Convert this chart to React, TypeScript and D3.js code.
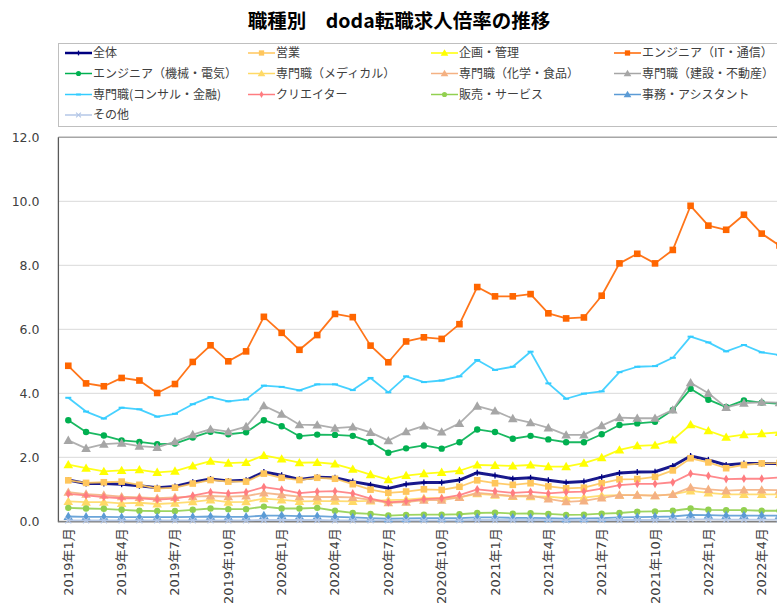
import React from "react";
import * as d3 from "d3";

const months: string[] = [
  "2019年1月","2019年2月","2019年3月","2019年4月","2019年5月","2019年6月","2019年7月","2019年8月","2019年9月","2019年10月","2019年11月","2019年12月",
  "2020年1月","2020年2月","2020年3月","2020年4月","2020年5月","2020年6月","2020年7月","2020年8月","2020年9月","2020年10月","2020年11月","2020年12月",
  "2021年1月","2021年2月","2021年3月","2021年4月","2021年5月","2021年6月","2021年7月","2021年8月","2021年9月","2021年10月","2021年11月","2021年12月",
  "2022年1月","2022年2月","2022年3月","2022年4月","2022年5月",
];

const yTicks: number[] = [0, 2, 4, 6, 8, 10, 12];

const seriesNames: string[] = [
  "全体","営業","企画・管理","エンジニア（IT・通信）",
  "エンジニア（機械・電気）","専門職（メディカル）","専門職（化学・食品）","専門職（建設・不動産）",
  "専門職(コンサル・金融)","クリエイター","販売・サービス","事務・アシスタント",
  "その他",
];

const zentai = [1.29,1.18,1.18,1.16,1.11,1.05,1.09,1.22,1.32,1.26,1.28,1.54,1.44,1.31,1.38,1.36,1.24,1.14,1.03,1.16,1.21,1.21,1.29,1.52,1.43,1.33,1.36,1.28,1.21,1.24,1.38,1.51,1.54,1.55,1.73,2.04,1.92,1.76,1.81,1.81,1.81];
const eigyo = [1.28,1.20,1.22,1.24,1.14,1.02,1.05,1.18,1.29,1.24,1.24,1.49,1.36,1.29,1.36,1.33,1.16,0.99,0.89,0.93,1.00,0.98,1.08,1.28,1.19,1.14,1.19,1.09,1.03,1.05,1.19,1.31,1.32,1.39,1.59,1.97,1.84,1.66,1.76,1.81,1.82];
const kikaku = [1.77,1.66,1.56,1.59,1.61,1.53,1.57,1.73,1.88,1.82,1.84,2.06,1.95,1.83,1.84,1.79,1.63,1.46,1.30,1.43,1.49,1.53,1.58,1.76,1.75,1.73,1.76,1.71,1.71,1.82,1.99,2.23,2.36,2.38,2.54,3.02,2.83,2.63,2.71,2.74,2.78];
const engIT = [4.86,4.31,4.22,4.48,4.40,4.01,4.29,4.98,5.50,5.00,5.31,6.39,5.89,5.36,5.82,6.48,6.38,5.49,4.97,5.62,5.75,5.70,6.16,7.32,7.03,7.03,7.10,6.50,6.34,6.37,7.05,8.06,8.36,8.06,8.48,9.86,9.24,9.11,9.58,8.99,8.62];
const engKikai = [3.16,2.79,2.68,2.53,2.48,2.41,2.43,2.62,2.80,2.72,2.78,3.16,2.97,2.66,2.71,2.70,2.67,2.48,2.14,2.28,2.37,2.27,2.47,2.87,2.79,2.58,2.67,2.56,2.47,2.47,2.72,3.01,3.06,3.11,3.48,4.14,3.80,3.57,3.78,3.71,3.67];
const medical = [0.62,0.60,0.60,0.56,0.58,0.54,0.57,0.61,0.67,0.60,0.61,0.71,0.67,0.62,0.63,0.63,0.62,0.64,0.66,0.68,0.72,0.72,0.75,0.86,0.82,0.78,0.77,0.77,0.72,0.74,0.80,0.82,0.82,0.80,0.84,0.95,0.89,0.84,0.84,0.84,0.84];
const kagaku = [0.91,0.85,0.82,0.77,0.75,0.72,0.75,0.77,0.79,0.77,0.79,0.89,0.83,0.77,0.76,0.76,0.75,0.67,0.58,0.60,0.66,0.66,0.75,0.89,0.84,0.79,0.80,0.70,0.61,0.64,0.73,0.82,0.82,0.80,0.84,1.06,1.00,0.96,0.98,0.98,0.97];
const kensetsu = [2.53,2.28,2.41,2.44,2.35,2.31,2.49,2.71,2.88,2.80,2.96,3.61,3.35,3.02,3.01,2.91,2.95,2.78,2.52,2.80,2.98,2.79,3.06,3.60,3.45,3.21,3.08,2.92,2.70,2.70,2.99,3.24,3.22,3.22,3.48,4.33,4.00,3.56,3.69,3.72,3.71];
const consul = [3.86,3.43,3.21,3.55,3.50,3.27,3.36,3.66,3.88,3.75,3.81,4.24,4.20,4.09,4.28,4.28,4.10,4.48,4.03,4.53,4.35,4.40,4.53,5.04,4.73,4.83,5.30,4.31,3.83,3.99,4.06,4.66,4.83,4.85,5.11,5.77,5.59,5.31,5.51,5.28,5.20];
const creator = [0.86,0.81,0.76,0.72,0.72,0.68,0.71,0.80,0.91,0.87,0.91,1.07,0.99,0.88,0.93,0.94,0.87,0.71,0.59,0.63,0.69,0.72,0.82,1.00,0.94,0.89,0.92,0.87,0.91,0.93,1.02,1.13,1.17,1.17,1.22,1.49,1.42,1.32,1.33,1.33,1.37];
const hanbai = [0.42,0.40,0.39,0.36,0.33,0.32,0.32,0.36,0.40,0.38,0.38,0.46,0.40,0.40,0.42,0.33,0.26,0.23,0.18,0.20,0.21,0.21,0.22,0.26,0.27,0.24,0.25,0.23,0.20,0.21,0.24,0.26,0.30,0.31,0.33,0.40,0.36,0.35,0.35,0.33,0.33];
const jimu = [0.15,0.14,0.14,0.13,0.13,0.13,0.13,0.14,0.15,0.14,0.14,0.18,0.18,0.16,0.16,0.14,0.12,0.10,0.08,0.09,0.10,0.10,0.10,0.12,0.12,0.11,0.11,0.10,0.08,0.09,0.10,0.12,0.13,0.14,0.15,0.20,0.19,0.18,0.18,0.18,0.18];
const sonota = [0.03,0.03,0.03,0.03,0.03,0.03,0.03,0.03,0.03,0.03,0.03,0.04,0.04,0.04,0.04,0.03,0.03,0.03,0.03,0.03,0.03,0.03,0.03,0.04,0.04,0.04,0.04,0.04,0.03,0.03,0.04,0.04,0.04,0.04,0.05,0.06,0.06,0.05,0.05,0.05,0.05];

const seriesValues: number[][] = [zentai, eigyo, kikaku, engIT, engKikai, medical, kagaku, kensetsu, consul, creator, hanbai, jimu, sonota];
const seriesColors: string[] = ["#000080","#FFC65C","#FFFF00","#FF6600","#00B050","#FFD966","#F4B183","#A6A6A6","#33CCFF","#FF7C80","#92D050","#5B9BD5","#B4C7E7"];
type Shape = "plus" | "square" | "triangle" | "circle" | "dash" | "diamond" | "x";
const seriesShapes: Shape[] = ["plus","square","triangle","square","circle","triangle","triangle","triangle","dash","diamond","circle","triangle","x"];
const seriesWidths: number[] = [3, 1.8, 1.8, 1.8, 1.8, 1.8, 1.8, 1.8, 1.8, 1.8, 1.8, 1.8, 1.8];

const W = 777, H = 603;
const plotLeft = 59.4, plotTop = 137.3, plotBottom = 521.3;
const step = 17.78;

function Marker({ shape, x, y, color, scale = 1 }: { shape: Shape; x: number; y: number; color: string; scale?: number }) {
  const s = scale;
  switch (shape) {
    case "square":
      return <rect x={x - 3.3 * s} y={y - 3.3 * s} width={6.6 * s} height={6.6 * s} fill={color} />;
    case "triangle": {
      const p = d3.symbol().type(d3.symbolTriangle).size(40 * s * s)();
      return <path d={p || ""} transform={`translate(${x},${y + 0.8 * s})`} fill={color} />;
    }
    case "circle":
      return <circle cx={x} cy={y} r={3.2 * s} fill={color} />;
    case "diamond": {
      const p = d3.symbol().type(d3.symbolDiamond).size(22 * s * s)();
      return <path d={p || ""} transform={`translate(${x},${y})`} fill={color} />;
    }
    case "plus":
      return (
        <g stroke={color} strokeWidth={1.3}>
          <line x1={x - 3 * s} x2={x + 3 * s} y1={y} y2={y} />
          <line x1={x} x2={x} y1={y - 3 * s} y2={y + 3 * s} />
        </g>
      );
    case "dash":
      return <line x1={x - 3 * s} x2={x + 3 * s} y1={y} y2={y} stroke={color} strokeWidth={2} />;
    case "x":
      return (
        <g stroke={color} strokeWidth={1.2}>
          <line x1={x - 3 * s} x2={x + 3 * s} y1={y - 3 * s} y2={y + 3 * s} />
          <line x1={x - 3 * s} x2={x + 3 * s} y1={y + 3 * s} y2={y - 3 * s} />
        </g>
      );
  }
  return null;
}

export default function App() {
  const x = d3.scaleBand<string>().domain(months).range([plotLeft, plotLeft + months.length * step]).padding(0);
  const cx = (m: string) => (x(m) as number) + x.bandwidth() / 2;
  const y = d3.scaleLinear().domain([0, 12]).range([plotBottom, plotTop]);
  const line = d3.line<number>().x((_, i) => cx(months[i])).y((v) => y(v));

  const legendCols = [65, 248, 431, 614];
  const legendRows = [53, 73.5, 94.5, 115];
  const cjk = "'Noto Sans CJK JP', sans-serif";
  const num = "'DejaVu Sans', 'Noto Sans CJK JP', sans-serif";

  return (
    <svg width={W} height={H} style={{ position: "absolute", left: 0, top: 0, background: "#fff" }}>
      <rect x={0} y={0} width={W} height={H} fill="#fff" />
      <text x={399} y={28} textAnchor="middle" fontFamily={cjk} fontWeight="bold" fontSize={19.5} fill="#000">
        職種別　doda転職求人倍率の推移
      </text>

      {/* legend */}
      <rect x={58.5} y={43.5} width={760} height={83} fill="#fff" stroke="#BFBFBF" strokeWidth={1} />
      {seriesNames.map((name, i) => {
        const lx = legendCols[i % 4];
        const ly = legendRows[Math.floor(i / 4)];
        return (
          <g key={name}>
            <line x1={lx} x2={lx + 27} y1={ly} y2={ly} stroke={seriesColors[i]} strokeWidth={i === 0 ? 2.5 : 1.5} />
            <Marker shape={seriesShapes[i]} x={lx + 13.5} y={ly} color={seriesColors[i]} scale={0.8} />
            <text x={lx + 28} y={ly + 4.2} fontFamily={cjk} fontSize={12} fill="#404040">{name}</text>
          </g>
        );
      })}

      {/* gridlines */}
      {yTicks.map((t) => (
        <line key={t} x1={plotLeft - 1} x2={W + 20} y1={y(t)} y2={y(t)}
          stroke={t === 12 ? "#A6A6A6" : t === 0 ? "#808080" : "#D9D9D9"} strokeWidth={t === 12 ? 1.5 : 1} />
      ))}
      <line x1={plotLeft - 1} x2={plotLeft - 1} y1={plotTop} y2={plotBottom + 1} stroke="#595959" strokeWidth={1.3} />
      <line x1={plotLeft - 1} x2={W + 20} y1={plotBottom + 0.5} y2={plotBottom + 0.5} stroke="#808080" strokeWidth={1.5} />
      {yTicks.map((t) => (
        <text key={"yl" + t} x={39.5} y={y(t) + 4.5} textAnchor="end" fontFamily={num} fontSize={12.5} fill="#404040">
          {t.toFixed(1)}
        </text>
      ))}
      {months.map((m, i) =>
        i % 3 === 0 ? (
          <text key={m} transform={`translate(${cx(m) + 4.5},${plotBottom + 7}) rotate(-90)`} textAnchor="end"
            fontFamily={num} fontSize={13} fill="#404040">
            {m}
          </text>
        ) : null
      )}

      {/* series */}
      {seriesValues.map((vals, si) => (
        <g key={"s" + si}>
          <path d={line(vals) || ""} fill="none" stroke={seriesColors[si]} strokeWidth={seriesWidths[si]} strokeLinejoin="round" opacity={0.9} />
          {vals.map((v, i) => (
            <Marker key={i} shape={seriesShapes[si]} x={cx(months[i])} y={y(v)} color={seriesColors[si]} />
          ))}
        </g>
      ))}
    </svg>
  );
}
